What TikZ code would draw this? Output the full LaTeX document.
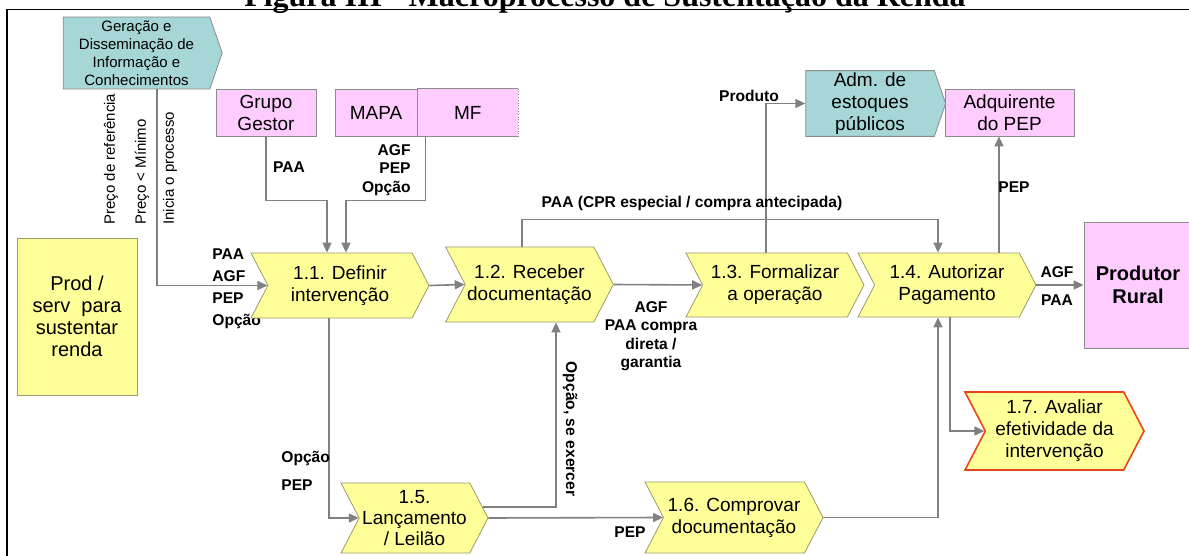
\documentclass[tikz,border=0pt]{standalone}
\usepackage{fontspec}
\setmainfont{Liberation Sans}
\newfontfamily\titlefont{Liberation Serif}
\usetikzlibrary{arrows.meta, shapes.symbols}
\definecolor{amarelo}{HTML}{FFFF99}
\definecolor{oliva}{HTML}{9A9A70}
\definecolor{rosa}{HTML}{FFCCFF}
\definecolor{ciano}{HTML}{A6D6D6}
\definecolor{cinza}{HTML}{808080}
\definecolor{borda}{HTML}{8C8C8C}
\definecolor{vermelho}{HTML}{E8441E}

\begin{document}
\begin{tikzpicture}[x=0.5pt, y=-0.5pt,
  font=\fontsize{9.5}{11}\selectfont,
  pr/.style={signal, signal from=west, signal to=east, signal pointer angle=125,
             draw=oliva, fill=amarelo, align=center, inner sep=1pt},
  pk/.style={draw=borda, fill=rosa, align=center, inner sep=1pt},
  tl/.style={signal, signal to=east, signal pointer angle=142, draw=borda,
             fill=ciano, align=center, inner sep=1pt},
  lb/.style={font=\fontsize{7.8}{9.2}\selectfont\bfseries, inner sep=1pt},
  rt/.style={font=\fontsize{7.5}{9}\selectfont, inner sep=1pt},
  ar/.style={-{Triangle[length=5pt,width=4.5pt]}, draw=cinza, line width=0.8pt}]

\useasboundingbox (0,0) rectangle (1189,556);
\clip (0,0) rectangle (1189,556);

\node[font=\titlefont\fontsize{16}{18}\selectfont\bfseries, anchor=base] (tit) at (605,7)
  {Figura III - Macroprocesso de Sustentação da Renda};
\draw[line width=0.8pt] (7,556) -- (7,9.5) -- (1189,9.5);

% entradas
\node[tl, minimum width=79.5pt, minimum height=36pt, font=\fontsize{7.5}{9}\selectfont] (gen)
  at (136.5,53) {Geração e\\Disseminação de\\Informação e\\Conhecimentos};
\node[pk, minimum width=50pt, minimum height=23.5pt] (gg) at (266,112.5) {Grupo\\Gestor};
\node[pk, minimum width=41pt, minimum height=23.5pt] (mapa) at (376,112.5) {MAPA};
\node[pk, draw=none, minimum width=50pt, minimum height=23.5pt, anchor=west] (mf) at (mapa.east) {MF};
\draw[borda] (mf.north east) -- (mf.north west) -- (mf.south west) -- (mf.south east);
\draw[borda, densely dotted] (mf.north east) -- (mf.south east);
\node[draw=oliva, fill=amarelo, minimum width=60pt, minimum height=78.5pt, align=center,
  font=\fontsize{10}{11}\selectfont] (prod) at (77,316.5) {Prod /\\serv\ \ para\\sustentar\\renda};

\node[lb, align=left, anchor=north west, font=\fontsize{7.8}{11}\selectfont\bfseries] (l11)
  at (210,246) {PAA\\AGF\\PEP\\Opção};

% processos
\node[pr, minimum width=89pt, minimum height=32.5pt] (p11) at (340,285.5) {1.1. Definir\\intervenção};
\node[pr, minimum width=83.5pt, minimum height=37.5pt] (p12) at (529.5,284.5) {1.2. Receber\\documentação};
\node[pr, minimum width=89pt, minimum height=32pt] (p13) at (775,285) {1.3. Formalizar\\a operação};
\node[pr, minimum width=89pt, minimum height=32pt] (p14) at (947,285) {1.4. Autorizar\\Pagamento};
\node[pr, minimum width=73.5pt, minimum height=35pt, font=\fontsize{9.5}{10.5}\selectfont] (p15)
  at (414.5,518) {1.5.\\Lançamento\\/ Leilão};
\node[pr, minimum width=89pt, minimum height=35.5pt] (p16) at (734,517.5) {1.6. Comprovar\\documentação};
\node[pr, draw=vermelho, line width=0.8pt, minimum width=89.5pt, minimum height=39pt] (p17)
  at (1054.5,431) {1.7. Avaliar\\efetividade da\\intervenção};

% saidas
\node[tl, minimum width=70pt, minimum height=32.5pt] (adm) at (870,103.5) {Adm. de\\estoques\\públicos};
\node[pk, minimum width=64.5pt, minimum height=23.5pt] (adq) at (1009.5,112.5) {Adquirente\\do PEP};
\node[pk, minimum width=54pt, minimum height=63pt, font=\fontsize{10}{11.5}\selectfont\bfseries] (rural)
  at (1138,285) {Produtor\\Rural};

\draw[ar] ([xshift=10.25pt]gen.south) |- (p11.west);
\draw[ar] (gg.south) -- ++(0,64) -| ([xshift=-6.5pt]p11.north);
\draw[ar] ([xshift=4pt]mf.south west) -- ++(0,64) -| ([xshift=3pt]p11.north);
\draw[ar] (p11.east) -- (p12.west);
\draw[ar] (p12.east) -- (p13.west);
\draw[ar] ([xshift=-3.75pt]p12.north) -- ++(0,-27) -| ([xshift=-4.5pt]p14.north);
\draw[ar] ([xshift=-4.5pt]p13.north) |- (adm.west);
\draw[ar] (p14.east) -- (rural.west);
\coordinate (pq) at ([xshift=26pt]p14.north);
\draw[ar] (pq) -- (pq |- adq.south);
\draw[ar] ([xshift=-5.5pt]p11.south) |- (p15.west);
\draw[ar] (p15.9) -| ([xshift=13.25pt]p12.south);
\draw[ar] (p15.east) -- (p16.west);
\draw[ar] (p16.east) -| ([xshift=-4.5pt]p14.south);
\draw[ar] ([xshift=1.5pt]p14.south) |- (p17.west);

% rotulos
\node[rt, rotate=90, anchor=west] (lref) at (111,227) {Preço de referência};
\node[rt, rotate=90, anchor=west] (lmin) at (142,227) {Preço < Mínimo};
\node[rt, rotate=90, anchor=west] (lini) at (170,227) {Inicia o processo};
\node[lb] (lgg) at (289,167) {PAA};
\node[lb, align=right, anchor=north east] (lmf) at (413,142) {AGF\\PEP\\Opção};
\node[lb] (lcpr) at (692,203) {PAA (CPR especial / compra antecipada)};
\node[lb] (lprod) at (749,96) {Produto};
\node[lb] (lpep) at (1014,187) {PEP};
\node[lb] (lagf) at (1057,272) {AGF};
\node[lb] (lpaa) at (1057,300) {PAA};
\node[lb, align=center, anchor=north] (l13) at (651,299) {AGF\\PAA compra\\direta /\\garantia};
\node[lb, rotate=-90] (lexe) at (570,429) {Opção, se exercer};
\node[lb, anchor=west] (lop) at (279,458) {Opção};
\node[lb, anchor=west] (lpep2) at (279,485) {PEP};
\node[lb] (lpep3) at (630,532) {PEP};
\end{tikzpicture}
\end{document}
